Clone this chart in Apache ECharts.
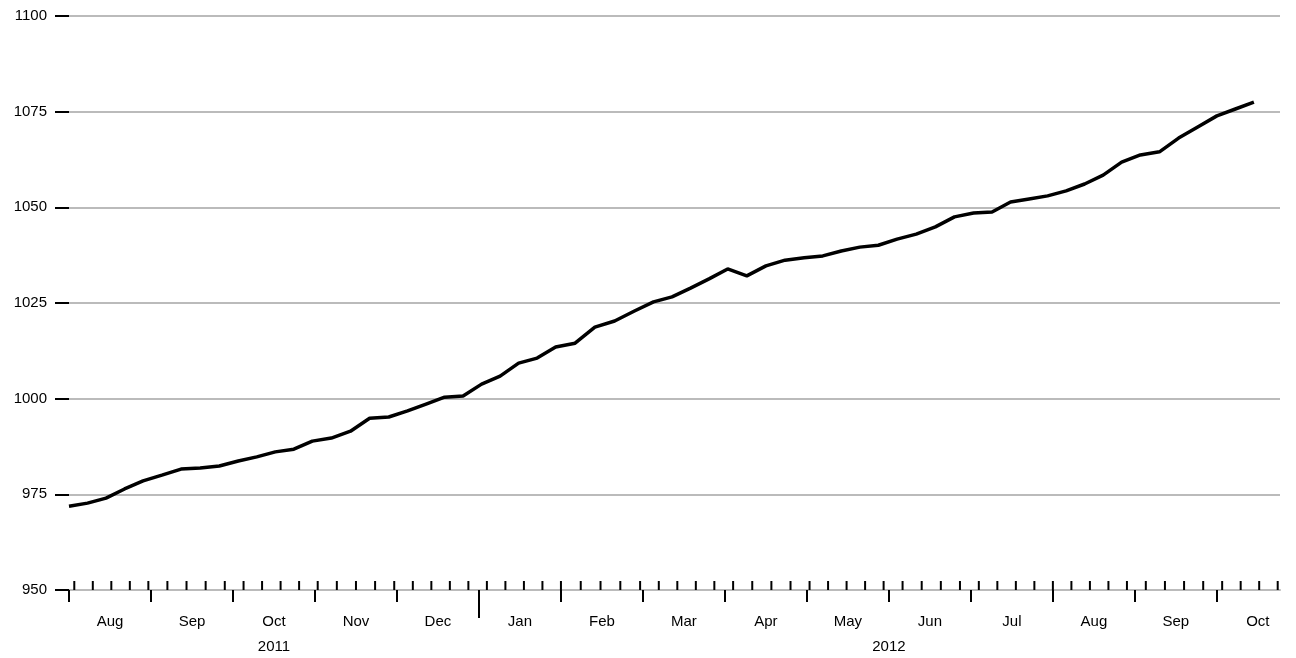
<!DOCTYPE html>
<html>
<head>
<meta charset="utf-8">
<title>chart</title>
<script src="https://cdn.jsdelivr.net/npm/echarts@6/dist/echarts.min.js"></script>
<style>
html,body{margin:0;padding:0;background:#fff;}
#main{width:1296px;height:658px;}
</style>
</head>
<body>
<div id="main"></div>
<script>
// weekly values, first week starting 2011-08-01
var startDate = '2011-08-01';
var values = [
  971.9, 972.7, 974.0, 976.4, 978.5, 980.0, 981.6, 981.9, 982.4, 983.7,
  984.8, 986.1, 986.8, 988.9, 989.7, 991.5, 994.9, 995.2, 996.8, 998.6,
  1000.4, 1000.7, 1003.8, 1005.9, 1009.3, 1010.6, 1013.5, 1014.5, 1018.7, 1020.3,
  1022.9, 1025.3, 1026.6, 1028.9, 1031.3, 1033.9, 1032.1, 1034.7, 1036.2, 1036.8,
  1037.3, 1038.6, 1039.6, 1040.1, 1041.7, 1043.0, 1044.9, 1047.5, 1048.5, 1048.8,
  1051.4, 1052.2, 1053.0, 1054.3, 1056.1, 1058.4, 1061.8, 1063.7, 1064.5, 1068.1,
  1071.0, 1073.9, 1075.7, 1077.5
];
var months = ['Aug','Sep','Oct','Nov','Dec','Jan','Feb','Mar','Apr','May','Jun','Jul','Aug','Sep','Oct'];
var years = ['2011', '2012'];
var yearPos = [2.5, 10.0];
var yTicks = [950, 975, 1000, 1025, 1050, 1075, 1100];
var firstMinorTick = '2011-08-03';

// months since Aug 2011, each month equal width
function monthPos(d) {
  var m = (d.getUTCFullYear() - 2011) * 12 + d.getUTCMonth() - 7;
  var dim = new Date(Date.UTC(d.getUTCFullYear(), d.getUTCMonth() + 1, 0)).getUTCDate();
  return m + (d.getUTCDate() - 1) / dim;
}
var DAY = 86400000;
var t0 = Date.parse(startDate);
var lineData = values.map(function (v, i) {
  return [monthPos(new Date(t0 + i * 7 * DAY)), v];
});
var xMax = 14.77;
var minorTicks = [];
for (var t = Date.parse(firstMinorTick); monthPos(new Date(t)) < xMax; t += 7 * DAY) {
  minorTicks.push([monthPos(new Date(t)), 950]);
}

var font = 'Liberation Sans, Helvetica, Arial, sans-serif';
var chart = echarts.init(document.getElementById('main'));
chart.setOption({
  animation: false,
  grid: {left: 69, right: 16, top: 16, bottom: 68},
  xAxis: [{
    type: 'value', min: 0, max: xMax,
    axisLine: {show: true, lineStyle: {color: '#bbb', width: 2}},
    splitLine: {show: false},
    axisTick: {show: true, customValues: months.map(function (m, i) { return i; }),
      length: 12, lineStyle: {color: '#000', width: 2}},
    axisLabel: {customValues: months.map(function (m, i) { return i + 0.5; }),
      formatter: function (v) { return months[Math.floor(v)]; },
      color: '#000', fontSize: 15, fontFamily: font, margin: 24}
  }, {
    type: 'value', min: 0, max: xMax, position: 'bottom',
    axisLine: {show: false},
    splitLine: {show: false},
    axisTick: {show: true, customValues: [5], length: 28, lineStyle: {color: '#000', width: 2}},
    axisLabel: {customValues: yearPos,
      formatter: function (v) { return years[yearPos.indexOf(v)]; },
      color: '#000', fontSize: 15, fontFamily: font, margin: 49}
  }],
  yAxis: {
    type: 'value', min: 950, max: 1100, interval: 25,
    axisLine: {show: false},
    axisTick: {show: true, length: 14, lineStyle: {color: '#000', width: 2}},
    splitLine: {show: true, lineStyle: {color: '#bbb', width: 2}},
    axisLabel: {color: '#000', fontSize: 15, fontFamily: font, margin: 22,
      customValues: yTicks, formatter: function (v) { return String(v); }}
  },
  series: [{
    type: 'custom',
    data: minorTicks,
    renderItem: function (params, api) {
      var p = api.coord([api.value(0), api.value(1)]);
      return {type: 'line', shape: {x1: p[0], y1: p[1], x2: p[0], y2: p[1] - 9},
        style: {stroke: '#000', lineWidth: 2}};
    },
    silent: true
  }, {
    type: 'line',
    data: lineData,
    showSymbol: false,
    lineStyle: {color: '#000', width: 3.5},
    silent: true
  }]
});
</script>
</body>
</html>
